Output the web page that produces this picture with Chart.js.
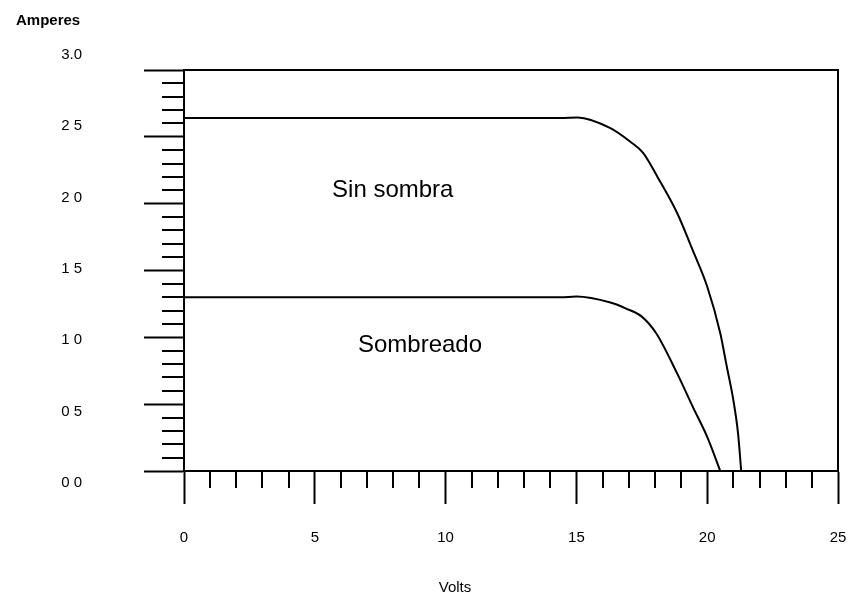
<!DOCTYPE html>
<html>
<head>
<meta charset="utf-8">
<script src="https://cdn.jsdelivr.net/npm/chart.js@4/dist/chart.umd.min.js"></script>
<style>
	html, body { margin: 0; padding: 0; background: #fff; }
	#wrap { width: 851px; height: 595px; }
</style>
</head>
<body>
<div id="wrap"><canvas id="curvas" width="851" height="595"></canvas></div>
<script>
// curva I-V del panel
const sinSombraV = [0, 14.4, 15.05, 16.3, 17.05, 17.55, 18.1, 18.85, 19.45, 20.0, 20.5, 20.75, 21.0, 21.18, 21.3];
const sinSombraA = [2.64, 2.64, 2.645, 2.565, 2.465, 2.38, 2.2, 1.93, 1.65, 1.38, 1.03, 0.78, 0.53, 0.28, 0.0];
const sombreadoV = [0, 14.4, 15.0, 16.3, 16.9, 17.5, 18.05, 18.85, 19.45, 20.0, 20.5];
const sombreadoA = [1.3, 1.3, 1.305, 1.26, 1.215, 1.155, 1.03, 0.73, 0.48, 0.255, 0.0];

const yTickValues = [3.0, 2.5, 2.0, 1.5, 1.0, 0.5, 0.0];
const yTickLabels = ["3.0", "2 5", "2 0", "1 5", "1 0", "0 5", "0 0"];
const xTickLabels = ["0", "5", "10", "15", "20", "25"];

const FONT = "'Liberation Sans', Arial, sans-serif";

const toPoints = (xs, ys) => xs.map((x, i) => ({ x: x, y: ys[i] }));

const marcoPlugin = {
	id: "marco",
	afterDraw(chart) {
		const ctx = chart.ctx;
		const area = chart.chartArea;
		const xs = chart.scales.x;
		const ys = chart.scales.y;
		ctx.save();
		ctx.strokeStyle = "#000";
		ctx.lineWidth = 2;

		// borde superior y derecho
		ctx.beginPath();
		ctx.moveTo(area.left, area.top);
		ctx.lineTo(area.right, area.top);
		ctx.lineTo(area.right, area.bottom);
		ctx.stroke();

		// marcas menores
		ctx.beginPath();
		for (let i = 1; i < 25; i++) {
			if (i % 5 === 0) continue;
			const px = Math.round(xs.getPixelForValue(i));
			ctx.moveTo(px, area.bottom);
			ctx.lineTo(px, area.bottom + 17);
		}
		for (let i = 1; i < 30; i++) {
			if (i % 5 === 0) continue;
			const py = Math.round(ys.getPixelForValue(i / 10));
			ctx.moveTo(area.left - 22, py);
			ctx.lineTo(area.left, py);
		}
		ctx.stroke();

		// etiquetas del eje y
		ctx.fillStyle = "#000";
		ctx.font = "15px " + FONT;
		ctx.textAlign = "right";
		ctx.textBaseline = "middle";
		yTickValues.forEach((v, i) => {
			const nudge = 12 - 9 * v;
			ctx.fillText(yTickLabels[i], area.left - 102, ys.getPixelForValue(v) + nudge);
		});

		// rotulos de las curvas
		ctx.font = "24px " + FONT;
		ctx.textAlign = "left";
		ctx.fillText("Sin sombra", xs.getPixelForValue(5.66), ys.getPixelForValue(2.1));
		ctx.fillText("Sombreado", xs.getPixelForValue(6.65), ys.getPixelForValue(0.94));

		// titulos de ejes
		ctx.font = "bold 15px " + FONT;
		ctx.fillText("Amperes", 16, 21);
		ctx.font = "15px " + FONT;
		ctx.textAlign = "center";
		ctx.fillText("Volts", 455, 588);
		ctx.restore();
	},
};

new Chart(document.getElementById("curvas"), {
	type: "scatter",
	data: {
		datasets: [
			{
				label: "Sin sombra",
				data: toPoints(sinSombraV, sinSombraA),
				showLine: true,
				borderColor: "#000",
				borderWidth: 2,
				pointRadius: 0,
				cubicInterpolationMode: "monotone",
			},
			{
				label: "Sombreado",
				data: toPoints(sombreadoV, sombreadoA),
				showLine: true,
				borderColor: "#000",
				borderWidth: 2,
				pointRadius: 0,
				cubicInterpolationMode: "monotone",
			},
		],
	},
	options: {
		responsive: false,
		animation: false,
		layout: { padding: { top: 70, right: 13, left: 0, bottom: 0 } },
		plugins: {
			legend: { display: false },
			tooltip: { enabled: false },
		},
		scales: {
			x: {
				type: "linear",
				min: 0,
				max: 25,
				afterFit: (scale) => {
					scale.height = 124;
					scale.paddingLeft = 0;
					scale.paddingRight = 0;
				},
				border: { color: "#000", width: 2 },
				grid: {
					drawOnChartArea: false,
					tickLength: 33,
					tickColor: "#000",
					tickWidth: 2,
				},
				ticks: {
					stepSize: 5,
					color: "#000",
					padding: 25,
					maxRotation: 0,
					font: { family: FONT, size: 15 },
					callback: (v) => xTickLabels[v / 5],
				},
			},
			y: {
				type: "linear",
				min: 0,
				max: 3,
				afterFit: (scale) => { scale.width = 184; },
				border: { color: "#000", width: 2 },
				grid: {
					drawOnChartArea: false,
					tickLength: 40,
					tickColor: "#000",
					tickWidth: 2,
				},
				ticks: {
					stepSize: 0.5,
					display: false,
				},
			},
		},
	},
	plugins: [marcoPlugin],
});
</script>
</body>
</html>
